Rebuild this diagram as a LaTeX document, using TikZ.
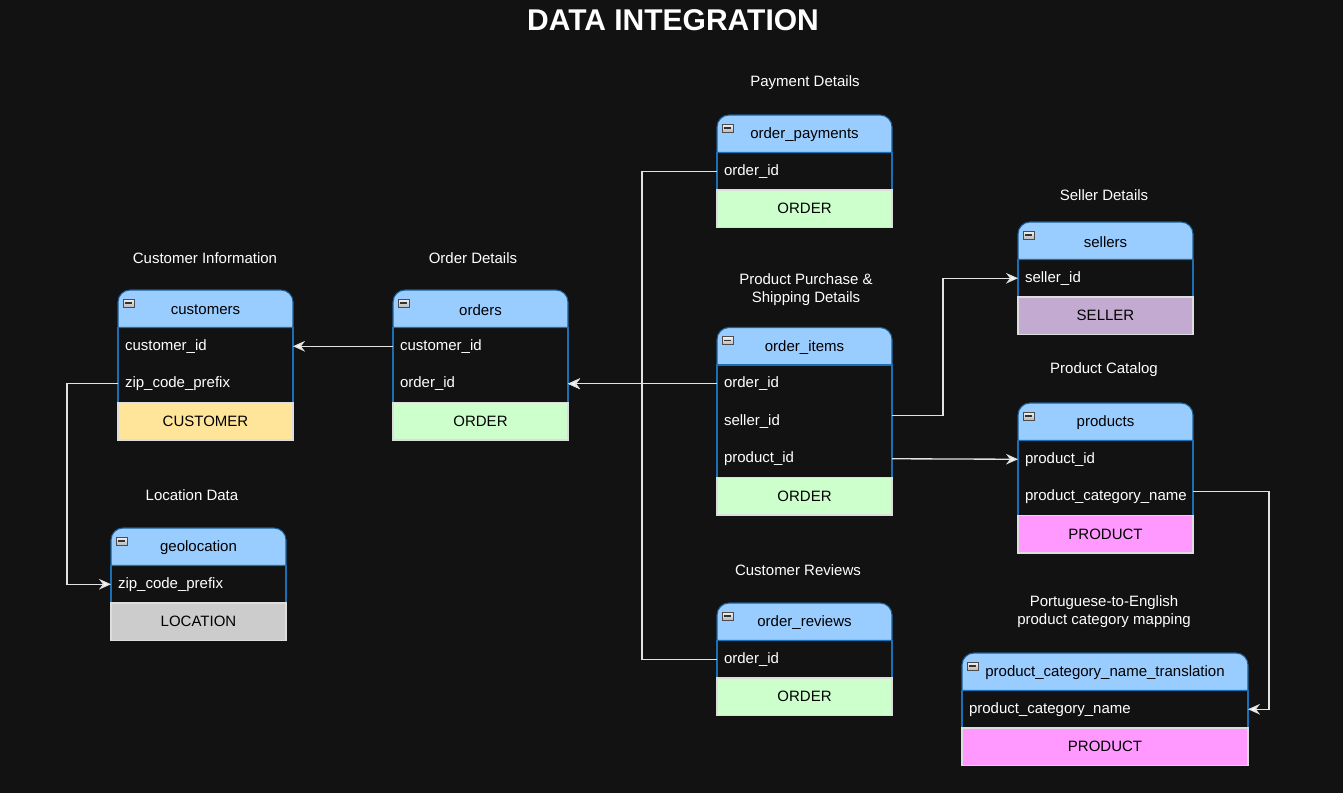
\documentclass[tikz,border=0pt]{standalone}
\usepackage{fontspec}
\setmainfont{Liberation Sans}
\usetikzlibrary{positioning,arrows.meta}

\definecolor{bgdark}{HTML}{121212}
\definecolor{headblue}{HTML}{99CCFF}
\definecolor{headline}{HTML}{1B5E94}
\definecolor{sideline}{HTML}{1A6FB5}
\definecolor{tagline}{HTML}{DDDDDD}
\definecolor{linkgray}{HTML}{E2E2E2}
\definecolor{custtag}{HTML}{FFE599}
\definecolor{ordertag}{HTML}{CCFFCC}
\definecolor{loctag}{HTML}{CCCCCC}
\definecolor{sellertag}{HTML}{C3AAD0}
\definecolor{prodtag}{HTML}{FF99FF}

\tikzset{
  headspace/.style={minimum width=131.25pt, minimum height=28.125pt, inner sep=0pt, outer sep=0pt},
  headbox/.style={fill=headblue, draw=headline, line width=0.8pt},
  headtext/.style={text=black, inner sep=0pt},
  field/.style={text=white, minimum width=131.25pt, text width=120.75pt, inner xsep=5.25pt,
    inner ysep=0pt, minimum height=28.125pt, align=left, outer sep=0pt},
  tagrow/.style={fill=#1, draw=tagline, line width=0.8pt, text=black, minimum width=131.25pt,
    minimum height=28.125pt, inner sep=0pt, outer sep=0pt},
  bodyline/.style={draw=sideline, line width=0.8pt},
  caption/.style={text=white, align=center},
  link/.style={draw=linkgray, line width=1pt, -{Stealth[length=9pt, width=8pt, inset=3pt, fill=white]}},
  iconbox/.style={top color=gray!10, bottom color=gray!55, draw=gray!60!black, line width=0.4pt}
}

% table header: name, centre, width, title
\newcommand{\tablehead}[4]{%
  \node[headspace, minimum width=#3] (#1) at (#2) {};
  \path[headbox] (#1.south west) -- ([yshift=-9pt]#1.north west)
    arc[start angle=180, end angle=90, radius=9pt] -- ([xshift=-9pt]#1.north east)
    arc[start angle=90, end angle=0, radius=9pt] -- (#1.south east) -- cycle;
  \draw[iconbox] ([xshift=3.75pt, yshift=-6.75pt]#1.north west) rectangle ++(8.25pt,-6pt);
  \draw[line width=1.1pt, black!80] ([xshift=5.25pt, yshift=-9.75pt]#1.north west) -- ++(5.25pt,0);
  \node[headtext] (#1-title) at ([yshift=-0.75pt]#1) {#4};
}

\begin{document}
\begin{tikzpicture}[x=0.75pt, y=-0.75pt, font=\fontsize{11.25}{13.5}\selectfont]
  \useasboundingbox[fill=bgdark] (0,0) rectangle (1343,793);

  \node[text=white, font=\fontsize{22.5}{26}\selectfont\bfseries] (title) at (673,20) {DATA INTEGRATION};

  % captions
  \node[caption] (cust-cap) at (205,258) {Customer Information};
  \node[caption] (ord-cap) at (473,258) {Order Details};
  \node[caption] (geo-cap) at (192,495) {Location Data};
  \node[caption] (pay-cap) at (805,83) {Payment Details};
  \node[caption] (item-cap) at (806,290) {Product Purchase \&\\Shipping Details};
  \node[caption] (rev-cap) at (798,570) {Customer Reviews};
  \node[caption] (sell-cap) at (1104,195) {Seller Details};
  \node[caption] (prod-cap) at (1104,370) {Product Catalog};
  \node[caption] (trans-cap) at (1104,612) {Portuguese-to-English\\product category mapping};

  % customers
  \tablehead{cust}{205.5,308.75}{131.25pt}{customers}
  \node[field, below=0pt of cust] (cust-id) {customer\_id};
  \node[field, below=0pt of cust-id] (cust-zip) {zip\_code\_prefix};
  \draw[bodyline] (cust.south west) rectangle (cust-zip.south east);
  \node[tagrow=custtag, below=0pt of cust-zip] (cust-tag) {CUSTOMER};

  % orders
  \tablehead{ord}{480.5,308.75}{131.25pt}{orders}
  \node[field, below=0pt of ord] (ord-cust) {customer\_id};
  \node[field, below=0pt of ord-cust] (ord-id) {order\_id};
  \draw[bodyline] (ord.south west) rectangle (ord-id.south east);
  \node[tagrow=ordertag, below=0pt of ord-id] (ord-tag) {ORDER};

  % geolocation
  \tablehead{geo}{198.5,546.75}{131.25pt}{geolocation}
  \node[field, below=0pt of geo] (geo-zip) {zip\_code\_prefix};
  \draw[bodyline] (geo.south west) rectangle (geo-zip.south east);
  \node[tagrow=loctag, below=0pt of geo-zip] (geo-tag) {LOCATION};

  % order_payments
  \tablehead{pay}{804.5,133.75}{131.25pt}{order\_payments}
  \node[field, below=0pt of pay] (pay-id) {order\_id};
  \draw[bodyline] (pay.south west) rectangle (pay-id.south east);
  \node[tagrow=ordertag, below=0pt of pay-id] (pay-tag) {ORDER};

  % order_items
  \tablehead{item}{804.5,346.25}{131.25pt}{order\_items}
  \node[field, below=0pt of item] (item-id) {order\_id};
  \node[field, below=0pt of item-id] (item-seller) {seller\_id};
  \node[field, below=0pt of item-seller] (item-prod) {product\_id};
  \draw[bodyline] (item.south west) rectangle (item-prod.south east);
  \node[tagrow=ordertag, below=0pt of item-prod] (item-tag) {ORDER};

  % order_reviews
  \tablehead{rev}{804.5,621.75}{131.25pt}{order\_reviews}
  \node[field, below=0pt of rev] (rev-id) {order\_id};
  \draw[bodyline] (rev.south west) rectangle (rev-id.south east);
  \node[tagrow=ordertag, below=0pt of rev-id] (rev-tag) {ORDER};

  % sellers
  \tablehead{sell}{1105.5,240.75}{131.25pt}{sellers}
  \node[field, below=0pt of sell] (sell-id) {seller\_id};
  \draw[bodyline] (sell.south west) rectangle (sell-id.south east);
  \node[tagrow=sellertag, below=0pt of sell-id] (sell-tag) {SELLER};

  % products
  \tablehead{prod}{1105.5,421.75}{131.25pt}{products}
  \node[field, below=0pt of prod] (prod-id) {product\_id};
  \node[field, below=0pt of prod-id] (prod-cat) {product\_category\_name};
  \draw[bodyline] (prod.south west) rectangle (prod-cat.south east);
  \node[tagrow=prodtag, below=0pt of prod-cat] (prod-tag) {PRODUCT};

  % product_category_name_translation
  \tablehead{trans}{1105,671.75}{214.5pt}{product\_category\_name\_translation}
  \node[field, minimum width=214.5pt, text width=204pt, below=0pt of trans] (trans-cat) {product\_category\_name};
  \draw[bodyline] (trans.south west) rectangle (trans-cat.south east);
  \node[tagrow=prodtag, minimum width=214.5pt, below=0pt of trans-cat] (trans-tag) {PRODUCT};

  % links
  \draw[link] (ord-cust.west) -- (cust-id.east);
  \draw[link] (cust-zip.west) -- ++(-51,0) |- (geo-zip.west);
  \draw[link] (item-id.west) -- (ord-id.east);
  \draw[link] (pay-id.west) -- ++(-75,0) |- (ord-id.east);
  \draw[link] (rev-id.west) -- ++(-75,0) |- (ord-id.east);
  \draw[link] ([yshift=4.5pt]item-seller.east) -- ++(51,0) |- (sell-id.west);
  \draw[link] (item-prod.east) -- (prod-id.west);
  \draw[link] ([yshift=3.75pt]prod-cat.east) -- ++(76,0) |- (trans-cat.east);
\end{tikzpicture}
\end{document}
